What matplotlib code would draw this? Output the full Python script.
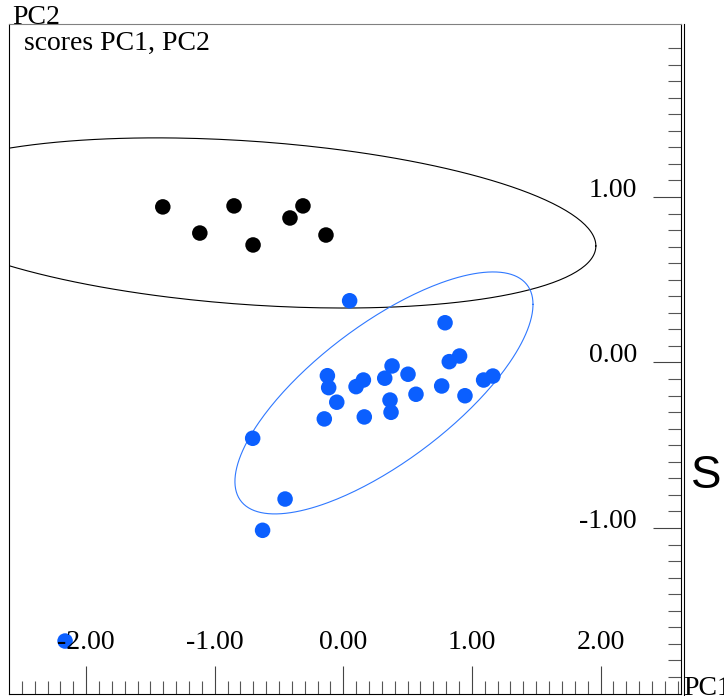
import numpy as np
import matplotlib
matplotlib.use("Agg")
import matplotlib.pyplot as plt
from matplotlib.lines import Line2D

# scores of the two groups (PC1, PC2)
blackPC1 = [-1.404, -1.116, -0.850, -0.702, -0.415, -0.314, -0.135]
blackPC2 = [0.940, 0.782, 0.946, 0.710, 0.873, 0.946, 0.770]

bluePC1 = [0.049, 0.791, 0.904, 0.824, 0.379, 0.503, 0.322, 0.156, 0.099, -0.124,
           -0.114, -0.051, -0.148, 0.163, 0.363, 0.371, 0.565, 0.765, 0.946, 1.091,
           1.163, -0.705, -0.453, -0.628, -2.164]
bluePC2 = [0.373, 0.240, 0.039, 0.005, -0.021, -0.071, -0.095, -0.106, -0.146, -0.080,
           -0.152, -0.240, -0.341, -0.329, -0.227, -0.301, -0.192, -0.142, -0.201, -0.106,
           -0.082, -0.458, -0.825, -1.014, -1.683]

# confidence ellipses: centre, half width, half height, correlation
blackEllipse = [-0.726, 0.843, 2.69, 0.514, -0.27]
blueEllipse = [0.316, -0.184, 1.159, 0.731, 0.732]

xMajor = [-2, -1, 0, 1, 2]
xMajorLabels = ["-2.00", "-1.00", "0.00", "1.00", "2.00"]
yMajor = [-1, 0, 1]
yMajorLabels = ["-1.00", "0.00", "1.00"]
xMinor = [v / 10 for v in range(-25, 27) if v % 10 != 0]
yMinor = [v / 10 for v in range(-19, 20) if v % 10 != 0]

serif = "Liberation Serif"
blue = "#0b5fff"


def ellipsePoints(p):
    cx, cy, rx, ry, rho = p
    t = np.linspace(0, 2 * np.pi, 300)
    x = cx + rx * np.cos(t)
    y = cy + ry * (rho * np.cos(t) + np.sqrt(1 - rho ** 2) * np.sin(t))
    return x, y


fig = plt.figure(figsize=(7.24, 6.96), dpi=100)
W, H = 724.0, 696.0
ax = fig.add_axes([9 / W, 2 / H, 672 / W, 670 / H])
ax.set_xlim(-2.60, 2.626)
ax.set_ylim(-2.003, 2.045)

ex, ey = ellipsePoints(blackEllipse)
ax.plot(ex, ey, color="black", lw=0.8, zorder=1.1)
ex, ey = ellipsePoints(blueEllipse)
ax.plot(ex, ey, color="#2f78ff", lw=0.8, zorder=1.1)

# points stay under the tick labels (the -2.00 label sits over one)
ax.scatter(blackPC1, blackPC2, s=125, color="black", edgecolors="none", zorder=1.3)
ax.scatter(bluePC1, bluePC2, s=125, color=blue, edgecolors="none", zorder=1.3)

# axes on the right and bottom, ticks and labels inside
ax.xaxis.set_ticks_position("bottom")
ax.yaxis.set_ticks_position("right")
ax.set_xticks(xMajor)
ax.set_xticklabels(xMajorLabels)
ax.set_xticks(xMinor, minor=True)
ax.set_yticks(yMajor)
ax.set_yticklabels(yMajorLabels)
ax.set_yticks(yMinor, minor=True)

ax.tick_params(axis="x", which="major", direction="in", length=20, width=0.8,
               color="#444444", pad=-32.4, labelsize=20)
ax.tick_params(axis="y", which="major", direction="in", length=20, width=0.8,
               color="#444444", pad=-31.7, labelsize=20,
               labelright=True, labelleft=False)
ax.tick_params(which="minor", direction="in", length=9.4, width=0.8, color="#555555")

for lab in ax.get_xticklabels():
    lab.set_fontfamily(serif)
    lab.set_va("baseline")
for lab in ax.get_yticklabels():
    lab.set_fontfamily(serif)
    lab.set_ha("right")
    lab.set_va("baseline")

ax.spines["top"].set_color("#808080")
ax.spines["top"].set_linewidth(0.8)
ax.spines["left"].set_linewidth(0.8)
ax.spines["bottom"].set_linewidth(0.8)
ax.spines["right"].set_linewidth(0.8)
# second line of the double right axis
fig.add_artist(Line2D([683.5 / W, 683.5 / W], [0, 1 - 24 / H], color="black", lw=0.8))

fig.text(12 / W, 1 - 24 / H, "PC2", fontsize=20, family=serif, va="baseline")
fig.text(24 / W, 1 - 50 / H, "scores PC1, PC2", fontsize=20, family=serif, va="baseline")
fig.text(683 / W, 1 - 695 / H, "PC1", fontsize=20, family=serif, va="baseline")
fig.text(691 / W, 1 - 488 / H, "S", fontsize=33, family="Liberation Sans", va="baseline")

plt.savefig("out.png", dpi=100)
